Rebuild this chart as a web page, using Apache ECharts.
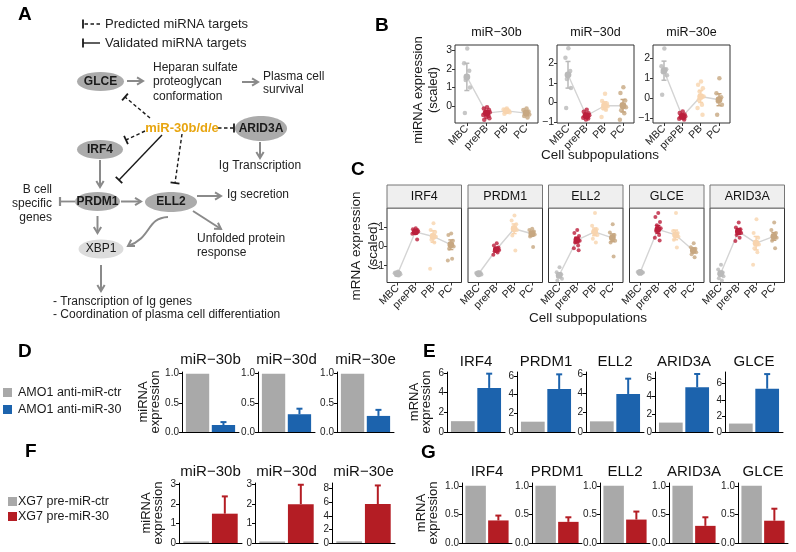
<!DOCTYPE html>
<html><head><meta charset="utf-8">
<script src="https://cdn.jsdelivr.net/npm/echarts@6/dist/echarts.min.js"></script>
<style>html,body{margin:0;padding:0;background:#fff}#c{width:796px;height:552px}</style>
</head><body><div id="c"></div>
<script>
// ---------------- DATA ----------------
const GROUPS = ['MBC', 'prePB', 'PB', 'PC'];

const B_TITLES = ['miR−30b', 'miR−30d', 'miR−30e'];
const B_POINTS = [
  [[3.09, 2.3, 1.9, 1.4, 1.0, -0.37],
   [-0.05, -0.12, -0.2, -0.28, -0.33, -0.38, -0.42, -0.47, -0.52, -0.58, -0.65, -0.72],
   [-0.12, -0.18, -0.24, -0.28, -0.33, -0.4],
   [-0.12, -0.2, -0.28, -0.36, -0.44, -0.52, -0.6]],
  [[2.76, 2.28, 1.6, 1.2, 0.73, -0.28],
   [-0.37, -0.48, -0.55, -0.6, -0.65, -0.7, -0.74, -0.78, -0.82, -0.87],
   [0.44, 0.07, -0.05, -0.12, -0.2, -0.28, -0.38, -0.74],
   [0.78, 0.48, 0.1, -0.1, -0.25, -0.4, -0.55, -0.88]],
  [[2.5, 1.6, 1.45, 1.3, 1.15, 0.17],
   [-0.67, -0.75, -0.82, -0.88, -0.92, -0.96, -1.0, -1.04, -1.08],
   [0.83, 0.67, 0.5, 0.33, 0.08, -0.1, -0.33, -0.5, -0.83],
   [1.0, 0.25, 0.05, -0.17, -0.33, -0.83]]
];
const B_MEANS = [[1.57, -0.37, -0.25, -0.37], [1.41, -0.68, -0.17, -0.17], [1.38, -0.92, 0.08, -0.08]];
const B_ERRS = [[0.73, 0.1, 0.08, 0.12], [0.68, 0.08, 0.2, 0.32], [0.48, 0.06, 0.3, 0.3]];
const B_YMIN = [-0.9, -1.05, -1.25];
const B_YMAX = [3.28, 2.93, 2.67];
const B_YTICKS = [[0, 1, 2, 3], [-1, 0, 1, 2], [-1, 0, 1, 2]];

const C_GENES = ['IRF4', 'PRDM1', 'ELL2', 'GLCE', 'ARID3A'];
const C_POINTS = [
  [[-1.3, -1.35, -1.38, -1.42, -1.45, -1.48, -1.51, -1.4, -1.36],
   [0.95, 0.9, 0.86, 0.82, 0.78, 0.74, 0.7, 0.66, 0.36],
   [1.21, 0.85, 0.75, 0.6, 0.5, 0.35, 0.2, -1.16],
   [0.68, 0.6, 0.3, 0.15, 0.0, -0.12, -0.64, -0.73]],
  [[-1.35, -1.38, -1.4, -1.43, -1.46, -1.42],
   [0.17, 0.05, -0.05, -0.12, -0.18, -0.25, -0.32, -0.43],
   [1.61, 1.35, 1.15, 1.0, 0.85, 0.57, -0.21],
   [0.92, 0.85, 0.78, 0.7, 0.62, 0.52, -0.03]],
  [[-1.08, -1.34, -1.45, -1.55, -1.68, -1.77],
   [0.85, 0.7, 0.55, 0.4, 0.3, 0.2, 0.05, -0.1, -0.2],
   [1.74, 1.08, 0.9, 0.75, 0.6, 0.4, 0.21],
   [1.16, 0.73, 0.6, 0.45, 0.3, 0.21, -0.52]],
  [[-1.3, -1.33, -1.36, -1.38, -1.35],
   [1.74, 1.53, 1.27, 1.1, 0.95, 0.8, 0.6, 0.45, 0.31],
   [1.74, 0.8, 0.7, 0.6, 0.5, 0.35, -0.05],
   [0.17, -0.04, -0.12, -0.2, -0.3, -0.4, -0.56]],
  [[-0.95, -1.2, -1.35, -1.45, -1.55, -1.65, -1.77],
   [1.24, 0.99, 0.9, 0.8, 0.7, 0.6, 0.45, 0.29],
   [1.41, 0.7, 0.45, 0.25, 0.1, -0.1, -0.3, -0.95],
   [1.24, 0.85, 0.7, 0.55, 0.45, 0.3, -0.1]]
];
const C_MEANS = [[-1.42, 0.76, 0.52, 0.09], [-1.42, -0.16, 0.92, 0.66], [-1.5, 0.33, 0.76, 0.45], [-1.35, 0.89, 0.6, -0.21], [-1.41, 0.78, 0.17, 0.52]];
const C_ERRS = [[0.04, 0.07, 0.3, 0.25], [0.03, 0.08, 0.25, 0.12], [0.12, 0.15, 0.2, 0.2], [0.03, 0.2, 0.25, 0.1], [0.12, 0.15, 0.35, 0.2]];
const C_YMIN = -1.875, C_YMAX = 2.0;
const C_YTICKS = [-1, 0, 1];

const D_TITLES = ['miR−30b', 'miR−30d', 'miR−30e'];
const D_CTR = [1.0, 1.0, 1.0];
const D_TRT = [0.12, 0.305, 0.276];
const D_ERR = [0.05, 0.095, 0.104];
const D_YMAX = [1.03, 1.03, 1.03];
const D_YTICKS = [0, 0.5, 1.0];

const E_GENES = ['IRF4', 'PRDM1', 'ELL2', 'ARID3A', 'GLCE'];
const E_CTR = [1.1, 1.1, 1.1, 1.05, 1.05];
const E_TRT = [4.48, 4.59, 3.93, 5.0, 5.38];
const E_ERR = [1.45, 1.56, 1.58, 1.48, 1.82];
const E_YMAX = [6.1, 6.4, 6.2, 6.7, 7.46];
const E_YTICKS = [0, 2, 4, 6];

const F_TITLES = ['miR−30b', 'miR−30d', 'miR−30e'];
const F_CTR = [0.08, 0.08, 0.25];
const F_TRT = [1.51, 2.0, 5.74];
const F_ERR = [0.89, 1.0, 2.74];
const F_YMAX = [3.09, 3.09, 8.84];
const F_YTICKS = [[0, 1, 2, 3], [0, 1, 2, 3], [0, 2, 4, 6, 8]];

const G_GENES = ['IRF4', 'PRDM1', 'ELL2', 'ARID3A', 'GLCE'];
const G_CTR = [1.0, 1.0, 1.0, 1.0, 1.0];
const G_TRT = [0.395, 0.37, 0.41, 0.3, 0.39];
const G_ERR = [0.085, 0.08, 0.14, 0.15, 0.21];
const G_YMAX = 1.05;
const G_YTICKS = [0, 0.5, 1.0];

// ---------------- STYLE ----------------
const FONT = '"Liberation Sans", Arial, Helvetica, sans-serif';
const GROUP_COLORS = ['#b9b9b9', '#bb1f3c', '#f8d4ae', '#c7a781'];
const BAR_GRAY = '#a9a9a9', BLUE = '#1c63ad', RED = '#b41d24';
const JITTER = [0.02, -0.14, 0.12, -0.06, 0.16, -0.1, 0.07, -0.17, 0.1, -0.02, 0.14, -0.12];

const grids = [], xAxes = [], yAxes = [], series = [], G = [];
const fmtNum = v => (v < 0 ? '−' + Math.abs(v) : String(v));

function txt(x, y, text, o = {}) {
  G.push({
    type: 'text', x: x, y: y, rotation: o.rotation || 0, z: 50,
    style: {
      text: text, x: 0, y: 0, fill: o.color || '#1a1a1a',
      font: (o.weight || 'normal') + ' ' + (o.size || 12) + 'px ' + FONT,
      textAlign: o.align || 'left', align: o.align || 'left',
      textVerticalAlign: 'middle', verticalAlign: 'middle'
    }
  });
}

function stripPanel(l, t, w, h, ymin, ymax, yticks, pts, means, errs, showY, symSize) {
  grids.push({ left: l, top: t, width: w, height: h, show: true, borderColor: '#333', borderWidth: 1, backgroundColor: 'transparent' });
  const gi = grids.length - 1;
  xAxes.push({
    gridIndex: gi, type: 'value', min: -0.6, max: 3.6, position: 'bottom',
    axisLine: { show: false, onZero: false },
    axisTick: { show: true, customValues: [0, 1, 2, 3], length: 3, lineStyle: { color: '#333' } },
    axisLabel: { show: true, customValues: [0, 1, 2, 3], formatter: v => GROUPS[Math.round(v)], rotate: 45, fontSize: 10.5, fontFamily: FONT, color: '#222', margin: 4 },
    splitLine: { show: false }
  });
  yAxes.push({
    gridIndex: gi, type: 'value', min: ymin, max: ymax, position: 'left',
    axisLine: { show: false, onZero: false },
    axisTick: { show: showY, customValues: yticks, length: 3, lineStyle: { color: '#333' } },
    axisLabel: { show: showY, customValues: yticks, formatter: fmtNum, fontSize: 10.5, fontFamily: FONT, color: '#222', margin: 3 },
    splitLine: { show: false }
  });
  const xi = xAxes.length - 1, yi = yAxes.length - 1;
  series.push({
    type: 'line', xAxisIndex: xi, yAxisIndex: yi, z: 1, silent: true, symbol: 'none',
    lineStyle: { color: '#d4d4d4', width: 1.4 },
    data: means.map((m, i) => [i, m])
  });
  const sd = [];
  pts.forEach((arr, g) => arr.forEach((v, k) => sd.push({ value: [g + JITTER[k % JITTER.length], v], itemStyle: { color: GROUP_COLORS[g] } })));
  series.push({ type: 'scatter', xAxisIndex: xi, yAxisIndex: yi, z: 2, symbolSize: symSize, data: sd, silent: true });
  series.push({
    type: 'custom', xAxisIndex: xi, yAxisIndex: yi, z: 3, silent: true,
    data: means.map((m, i) => [i, m, errs[i]]),
    encode: { x: 0, y: 1 },
    renderItem: function (params, api) {
      const i = api.value(0), m = api.value(1), e = api.value(2);
      const c = api.coord([i, m]), tp = api.coord([i, m + e]), bt = api.coord([i, m - e]);
      const col = GROUP_COLORS[Math.round(i)];
      const st = { stroke: col, lineWidth: 1.5 };
      return {
        type: 'group', children: [
          { type: 'line', shape: { x1: c[0], y1: tp[1], x2: c[0], y2: bt[1] }, style: st },
          { type: 'line', shape: { x1: c[0] - 2.5, y1: tp[1], x2: c[0] + 2.5, y2: tp[1] }, style: st },
          { type: 'line', shape: { x1: c[0] - 2.5, y1: bt[1], x2: c[0] + 2.5, y2: bt[1] }, style: st },
          { type: 'circle', shape: { cx: c[0], cy: c[1], r: 3.4 }, style: { fill: col } }
        ]
      };
    }
  });
}

function barPanel(l, t, w, h, ymax, yticks, fmt, ctr, trt, err, trtColor, title, titleY) {
  grids.push({ left: l, top: t, width: w, height: h });
  const gi = grids.length - 1;
  xAxes.push({
    gridIndex: gi, type: 'value', min: 0.4, max: 2.6, position: 'bottom',
    axisLine: { show: true, onZero: false, lineStyle: { color: '#000', width: 1 } },
    axisTick: { show: false }, axisLabel: { show: false }, splitLine: { show: false }
  });
  yAxes.push({
    gridIndex: gi, type: 'value', min: 0, max: ymax, position: 'left',
    axisLine: { show: true, onZero: false, lineStyle: { color: '#000', width: 1 } },
    axisTick: { show: true, customValues: yticks, length: 3, lineStyle: { color: '#000' } },
    axisLabel: { show: true, customValues: yticks, formatter: fmt, fontSize: 10, fontFamily: FONT, color: '#222', margin: 3 },
    splitLine: { show: false }
  });
  const xi = xAxes.length - 1, yi = yAxes.length - 1;
  series.push({
    type: 'bar', xAxisIndex: xi, yAxisIndex: yi, barWidth: 0.9 * w / 2.2, silent: true, z: 2,
    data: [{ value: [1, ctr], itemStyle: { color: BAR_GRAY } }, { value: [2, trt], itemStyle: { color: trtColor } }]
  });
  series.push({
    type: 'custom', xAxisIndex: xi, yAxisIndex: yi, z: 3, silent: true,
    data: [[2, trt, err]], encode: { x: 0, y: 1 },
    renderItem: function (params, api) {
      const x = api.value(0), v = api.value(1), e = api.value(2);
      const p0 = api.coord([x, v]), p1 = api.coord([x, v + e]);
      const st = { stroke: trtColor, lineWidth: 2 };
      return {
        type: 'group', children: [
          { type: 'line', shape: { x1: p0[0], y1: p0[1], x2: p1[0], y2: p1[1] }, style: st },
          { type: 'line', shape: { x1: p1[0] - 3, y1: p1[1], x2: p1[0] + 3, y2: p1[1] }, style: st }
        ]
      };
    }
  });
  txt(l + w / 2, titleY, title, { size: 15, align: 'center', color: '#111' });
}

// ---------- Panel B ----------
const B_LEFT = [455, 557, 653], B_W = [83, 77, 77];
for (let i = 0; i < 3; i++) {
  stripPanel(B_LEFT[i], 45, B_W[i], 78, B_YMIN[i], B_YMAX[i], B_YTICKS[i], B_POINTS[i], B_MEANS[i], B_ERRS[i], true, 4.5);
  txt(B_LEFT[i] + B_W[i] / 2, 33, B_TITLES[i], { size: 12.5, align: 'center', color: '#111' });
}
txt(418, 90, 'miRNA expression', { size: 13, align: 'center', rotation: Math.PI / 2 });
txt(433, 90, '(scaled)', { size: 13, align: 'center', rotation: Math.PI / 2 });
txt(600, 155, 'Cell subpopulations', { size: 13.5, align: 'center' });

// ---------- Panel C ----------
const C_LEFT = [387, 468, 548.5, 629.5, 710], C_W = 74.5;
for (let i = 0; i < 5; i++) {
  stripPanel(C_LEFT[i], 208, C_W, 74.5, C_YMIN, C_YMAX, C_YTICKS, C_POINTS[i], C_MEANS[i], C_ERRS[i], i === 0, 4);
  G.push({ type: 'rect', shape: { x: C_LEFT[i], y: 185, width: C_W, height: 23 }, style: { fill: '#efefef', stroke: '#777', lineWidth: 1 }, z: 40 });
  txt(C_LEFT[i] + C_W / 2, 197, C_GENES[i], { size: 12.5, align: 'center', color: '#111' });
}
txt(356, 246, 'mRNA expression', { size: 13.5, align: 'center', rotation: Math.PI / 2 });
txt(373, 246, '(scaled)', { size: 13.5, align: 'center', rotation: Math.PI / 2 });
txt(588, 318, 'Cell subpopulations', { size: 13.5, align: 'center' });

// ---------- Panel D ----------
const D_LEFT = [182, 258, 337], D_W = 57;
for (let i = 0; i < 3; i++) {
  barPanel(D_LEFT[i], 372, D_W, 60, D_YMAX[i], D_YTICKS, v => v.toFixed(1), D_CTR[i], D_TRT[i], D_ERR[i], BLUE, D_TITLES[i], 360);
}
txt(143, 402, 'miRNA', { size: 13, align: 'center', rotation: Math.PI / 2 });
txt(155, 402, 'expression', { size: 13, align: 'center', rotation: Math.PI / 2 });

// ---------- Panel E ----------
const E_LEFT = [447, 517, 586, 655, 725], E_W = 58;
for (let i = 0; i < 5; i++) {
  barPanel(E_LEFT[i], 372, E_W, 60, E_YMAX[i], E_YTICKS, v => String(v), E_CTR[i], E_TRT[i], E_ERR[i], BLUE, E_GENES[i], 362);
}
txt(414, 402, 'mRNA', { size: 13, align: 'center', rotation: Math.PI / 2 });
txt(426, 402, 'expression', { size: 13, align: 'center', rotation: Math.PI / 2 });

// ---------- Panel F ----------
const F_LEFT = [179, 255, 332], F_W = 63;
for (let i = 0; i < 3; i++) {
  barPanel(F_LEFT[i], 483, F_W, 60, F_YMAX[i], F_YTICKS[i], v => String(v), F_CTR[i], F_TRT[i], F_ERR[i], RED, F_TITLES[i], 472);
}
txt(146, 513, 'miRNA', { size: 13, align: 'center', rotation: Math.PI / 2 });
txt(158, 513, 'expression', { size: 13, align: 'center', rotation: Math.PI / 2 });

// ---------- Panel G ----------
const G_LEFT = [462, 532, 600, 669, 738], G_W = 50;
for (let i = 0; i < 5; i++) {
  barPanel(G_LEFT[i], 483, G_W, 60, G_YMAX, G_YTICKS, v => v.toFixed(1), G_CTR[i], G_TRT[i], G_ERR[i], RED, G_GENES[i], 472);
}
txt(421, 513, 'mRNA', { size: 13, align: 'center', rotation: Math.PI / 2 });
txt(433, 513, 'expression', { size: 13, align: 'center', rotation: Math.PI / 2 });

// ---------- Legends D / F ----------
G.push({ type: 'rect', shape: { x: 3, y: 388, width: 9, height: 9 }, style: { fill: BAR_GRAY } });
txt(18, 392.5, 'AMO1 anti-miR-ctr', { size: 12.5 });
G.push({ type: 'rect', shape: { x: 3, y: 405, width: 9, height: 9 }, style: { fill: BLUE } });
txt(18, 409.5, 'AMO1 anti-miR-30', { size: 12.5 });
G.push({ type: 'rect', shape: { x: 8, y: 497, width: 9, height: 9 }, style: { fill: BAR_GRAY } });
txt(18, 501.5, 'XG7 pre-miR-ctr', { size: 12.5 });
G.push({ type: 'rect', shape: { x: 8, y: 512, width: 9, height: 9 }, style: { fill: RED } });
txt(18, 516.5, 'XG7 pre-miR-30', { size: 12.5 });

// ---------- Panel letters ----------
[['A', 18, 15], ['B', 375, 26], ['C', 351, 170], ['D', 18, 352], ['E', 423, 352], ['F', 25, 452], ['G', 421, 453]]
  .forEach(p => txt(p[1], p[2], p[0], { size: 19, weight: 'bold', color: '#000' }));

// ---------- Panel A diagram ----------
const ARW = '#8a8a8a';
function arrow(x1, y1, x2, y2) {
  const a = Math.atan2(y2 - y1, x2 - x1), L = 7, w = 0.55;
  G.push({ type: 'line', shape: { x1, y1, x2, y2 }, style: { stroke: ARW, lineWidth: 2 } });
  G.push({ type: 'polyline', shape: { points: [[x2 - L * Math.cos(a - w), y2 - L * Math.sin(a - w)], [x2, y2], [x2 - L * Math.cos(a + w), y2 - L * Math.sin(a + w)]] }, style: { stroke: ARW, lineWidth: 2, fill: null } });
}
function tbar(x1, y1, x2, y2, dashed, col, lw) {
  col = col || '#1a1a1a'; lw = lw || 1.4;
  const a = Math.atan2(y2 - y1, x2 - x1), b = 4.5;
  const px = -Math.sin(a) * b, py = Math.cos(a) * b;
  G.push({ type: 'line', shape: { x1, y1, x2, y2 }, style: { stroke: col, lineWidth: lw, lineDash: dashed ? [3.5, 2.5] : null } });
  G.push({ type: 'line', shape: { x1: x2 - px, y1: y2 - py, x2: x2 + px, y2: y2 + py }, style: { stroke: col, lineWidth: lw + 0.4 } });
}
function node(cx, cy, rx, ry, label, fill, bold) {
  G.push({ type: 'ellipse', shape: { cx, cy, rx, ry }, style: { fill: fill } });
  txt(cx, cy, label, { size: 12, align: 'center', weight: bold ? 'bold' : 'normal', color: '#1a1a1a' });
}
// legend
tbar(100, 24, 83, 24, true); txt(105, 24, 'Predicted miRNA targets', { size: 13, color: '#222' });
tbar(100, 43, 83, 43, false); txt(105, 43, 'Validated miRNA targets', { size: 13, color: '#222' });
// nodes
node(100.5, 81.5, 23.5, 9.5, 'GLCE', '#ababab', true);
node(100, 149.5, 23, 9.5, 'IRF4', '#ababab', true);
node(97.5, 201.5, 22.5, 9.5, 'PRDM1', '#ababab', true);
node(171, 202, 26, 10, 'ELL2', '#ababab', true);
node(261, 128.5, 26, 12.5, 'ARID3A', '#ababab', true);
node(101, 249, 22.5, 9.5, 'XBP1', '#dcdcdc', false);
txt(182, 128, 'miR-30b/d/e', { size: 13, weight: 'bold', align: 'center', color: '#e8a50f' });
// texts
txt(153, 68, 'Heparan sulfate', { size: 12, color: '#222' });
txt(153, 82, 'proteoglycan', { size: 12, color: '#222' });
txt(153, 97, 'conformation', { size: 12, color: '#222' });
txt(263, 77, 'Plasma cell', { size: 12, color: '#222' });
txt(263, 90, 'survival', { size: 12, color: '#222' });
txt(260, 166, 'Ig Transcription', { size: 12, align: 'center', color: '#222' });
txt(52, 190, 'B cell', { size: 12, align: 'right', color: '#222' });
txt(52, 204, 'specific', { size: 12, align: 'right', color: '#222' });
txt(52, 218, 'genes', { size: 12, align: 'right', color: '#222' });
txt(227, 195, 'Ig secretion', { size: 12, color: '#222' });
txt(197, 239, 'Unfolded protein', { size: 12, color: '#222' });
txt(197, 253, 'response', { size: 12, color: '#222' });
txt(53, 302, '- Transcription of Ig genes', { size: 12, color: '#222' });
txt(53, 315, '- Coordination of plasma cell differentiation', { size: 12, color: '#222' });
// arrows
arrow(127, 81, 143, 81);
arrow(242, 82, 258, 82);
arrow(260, 142, 260, 158);
arrow(100, 160, 100, 187);
arrow(121, 201.5, 141, 201.5);
arrow(197, 196, 221, 196);
arrow(193, 211, 221, 229);
arrow(97.5, 216, 97.5, 233);
arrow(101, 265, 101, 291);
// curved arrow ELL2 -> XBP1
G.push({ type: 'bezierCurve', shape: { x1: 168, y1: 217, cpx1: 146, cpy1: 218, cpx2: 152, cpy2: 238, x2: 128, y2: 246 }, style: { stroke: ARW, lineWidth: 2, fill: null } });
(function () {
  const a = Math.atan2(246 - 240, 128 - 138), L = 7, w = 0.55, x2 = 128, y2 = 246;
  G.push({ type: 'polyline', shape: { points: [[x2 - L * Math.cos(a - w), y2 - L * Math.sin(a - w)], [x2, y2], [x2 - L * Math.cos(a + w), y2 - L * Math.sin(a + w)]] }, style: { stroke: ARW, lineWidth: 2, fill: null } });
})();
// inhibition lines
tbar(150, 118, 125, 97, true);
tbar(145, 131, 126, 140, true);
tbar(162, 135, 119, 180, false);
tbar(182, 134, 175, 183, true);
tbar(218, 128, 234, 128, true);
tbar(75, 201.5, 60, 201.5, false, ARW, 1.8);

// ---------------- CHART ----------------
const chart = echarts.init(document.getElementById('c'), null, { renderer: 'canvas' });
chart.setOption({
  animation: false,
  backgroundColor: '#fff',
  textStyle: { fontFamily: FONT },
  grid: grids, xAxis: xAxes, yAxis: yAxes, series: series,
  graphic: { elements: G }
});
</script></body></html>
